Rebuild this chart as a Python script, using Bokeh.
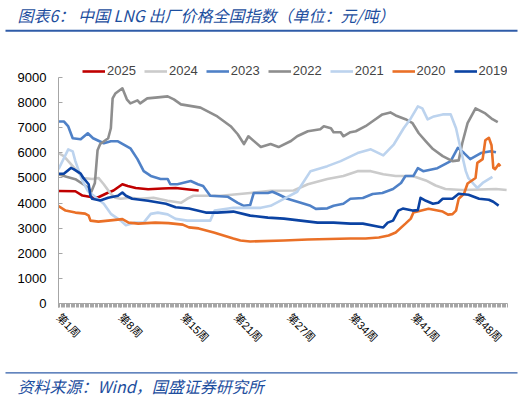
import numpy as np
from bokeh.plotting import figure
from bokeh.layouts import column
from bokeh.models import Range1d, FixedTicker, Legend, LegendItem
from bokeh.core.properties import value
from bokeh.embed import file_html
from bokeh.resources import INLINE

# ---------------- data (week of year, price yuan/ton) ----------------
week_ticks = [1, 8, 15, 21, 27, 34, 41, 48]
week_labels = ["第1周", "第8周", "第15周", "第21周", "第27周", "第34周", "第41周", "第48周"]
y_ticks = [0, 1000, 2000, 3000, 4000, 5000, 6000, 7000, 8000, 9000]

w2025 = [1.0, 2.9, 3.7, 4.8, 5.5, 6.5, 7.2, 8.2, 8.8, 9.7, 11.1, 12.7, 14.2, 15.7, 16.8]
v2025 = [4480, 4470, 4300, 4230, 4230, 4400, 4500, 4750, 4680, 4600, 4550, 4580, 4600, 4540, 4500]

w2024 = [1.0, 1.6, 2.4, 3.1, 3.8, 4.8, 5.5, 6.1, 6.9, 7.4, 8.0, 9.1, 10.2, 11.7, 13.3, 14.8,
         15.5, 16.2, 19.3, 22.6, 24.9, 27.5, 29.1, 31.3, 33.1, 34.7, 36.2, 37.6, 39.0, 40.9,
         42.4, 43.5, 44.6, 46.5, 48.6, 50.3, 51.5]
v2024 = [5990, 5870, 5550, 5270, 5000, 4960, 5000, 4750, 4360, 4210, 4170, 4210, 4170, 4210,
         4090, 4010, 4170, 4290, 4290, 4400, 4490, 4500, 4750, 4960, 5080, 5270, 5270, 5150,
         5080, 5080, 4900, 4700, 4560, 4520, 4540, 4560, 4520]

w2023 = [1.0, 1.6, 2.1, 2.6, 3.5, 4.3, 4.9, 6.1, 6.9, 7.7, 8.3, 9.1, 9.9, 10.6, 11.4, 12.5,
         13.3, 13.6, 14.4, 15.9, 16.7, 17.3, 18.1, 20.1, 21.2, 21.9, 22.6, 23.0, 24.6, 25.1,
         25.7, 26.8, 28.3, 29.4, 30.0, 31.3, 32.0, 33.1, 33.9, 35.3, 36.4, 37.5, 38.7, 39.6,
         40.1, 41.0, 41.5, 42.1, 43.7, 45.2, 46.0, 46.7, 47.4, 48.6, 49.7, 50.3]
v2023 = [7250, 7250, 7050, 6580, 6540, 6780, 6580, 6380, 6460, 6460, 6340, 6180, 5750, 5270,
         5080, 4960, 4960, 4750, 4750, 4880, 4750, 4680, 4290, 4250, 4010, 3890, 3920, 4400,
         4400, 4450, 4360, 4170, 4010, 3890, 3770, 3790, 3890, 3970, 4170, 4200, 4360, 4400,
         4560, 4800, 5080, 5080, 5390, 5270, 5390, 5670, 6200, 5990, 5750, 5990, 6060, 6020]

w2022 = [1.0, 1.9, 2.9, 4.0, 4.7, 5.1, 5.4, 5.7, 6.6, 6.9, 7.1, 7.4, 8.2, 8.7, 9.1, 9.9,
         10.2, 11.0, 12.2, 13.3, 14.0, 14.8, 17.0, 18.9, 20.4, 21.2, 21.9, 22.4, 23.8, 24.9,
         25.8, 27.2, 27.9, 29.1, 30.5, 30.9, 31.7, 32.0, 32.8, 33.1, 33.9, 34.5, 35.6, 36.4,
         37.5, 38.4, 39.0, 40.1, 40.9, 41.6, 42.4, 43.2, 44.3, 45.4, 46.1, 46.5, 47.1, 48.0,
         49.1, 49.9, 50.5]
v2022 = [5150, 5050, 4950, 4700, 4450, 4800, 6100, 6350, 6580, 6980, 8170, 8360, 8570, 8130,
         7970, 8090, 7970, 8170, 8210, 8250, 8130, 7930, 7800, 7450, 7060, 6740, 6350, 6660,
         6230, 6350, 6230, 6470, 6660, 6860, 6940, 7060, 6980, 6820, 6820, 6660, 6820, 6860,
         7060, 7260, 7530, 7610, 7490, 7340, 7180, 6780, 6460, 6150, 5870, 5670, 5700, 6380,
         7180, 7770, 7570, 7340, 7220]

w2021 = [1.0, 2.1, 2.6, 2.9, 3.3, 3.7, 4.3, 5.4, 6.1, 6.9, 8.0, 8.6, 9.5, 10.6, 11.4, 12.2,
         13.3, 14.2, 15.5, 18.1, 18.6, 20.7, 23.8, 24.9, 26.4, 27.9, 29.4, 31.3, 32.8, 34.7,
         36.2, 37.6, 38.8, 39.9, 40.7, 41.5, 42.0, 42.6, 43.3, 44.3, 45.2, 45.8, 46.3, 46.9,
         47.2, 47.8, 48.2, 48.8, 49.9]
v2021 = [5350, 6140, 6060, 5670, 5270, 4880, 4480, 4170, 3970, 3570, 3300, 3120, 3220, 3220,
         3570, 3620, 3550, 3370, 3300, 3300, 3700, 3810, 3810, 3890, 4170, 4450, 5270, 5470,
         5670, 5990, 6140, 5900, 6340, 6980, 7370, 7850, 7770, 7330, 7450, 7530, 7530, 6980,
         6180, 5270, 4990, 4750, 4600, 4800, 5040]

w2020 = [1.0, 1.8, 2.9, 4.0, 4.4, 4.6, 5.5, 6.6, 8.2, 8.9, 10.0, 11.9, 13.4, 15.0, 15.7,
         16.8, 18.5, 19.6, 20.7, 21.5, 22.6, 26.4, 29.1, 33.9, 35.6, 37.1, 38.2, 39.0, 40.1,
         40.7, 41.0, 42.7, 44.3, 44.9, 45.4, 45.8, 46.1, 46.7, 47.1, 48.0, 48.2, 48.8, 49.1,
         49.5, 49.8, 50.0, 50.2, 50.6, 50.8]
v2020 = [3880, 3700, 3620, 3580, 3500, 3300, 3260, 3300, 3360, 3220, 3180, 3220, 3200, 3140,
         3030, 2990, 2830, 2710, 2590, 2510, 2470, 2510, 2550, 2590, 2590, 2630, 2710, 2830,
         3180, 3380, 3620, 3770, 3660, 3540, 3560, 3700, 4170, 4370, 4780, 5000, 5600, 5750,
         6500, 6600, 6300, 5400, 5350, 5550, 5470]

w2019 = [1.0, 1.6, 2.4, 2.7, 3.5, 3.8, 4.4, 4.6, 4.8, 5.7, 6.6, 7.7, 8.2, 8.6, 9.3, 11.1,
         13.1, 14.2, 15.7, 17.6, 18.9, 20.7, 22.6, 24.6, 26.4, 28.3, 30.2, 32.0, 33.9, 35.3,
         37.1, 37.6, 38.1, 38.7, 39.3, 39.8, 40.9, 41.5, 41.8, 42.4, 43.2, 43.8, 44.3, 45.4,
         46.1, 47.2, 48.4, 49.5, 50.0, 50.6]
v2019 = [5170, 5170, 5400, 5350, 5170, 5000, 4750, 4290, 4170, 4100, 4210, 4290, 4420, 4290,
         4170, 4090, 3970, 3830, 3780, 3620, 3620, 3660, 3500, 3420, 3380, 3300, 3220, 3220,
         3180, 3180, 3060, 3030, 3220, 3300, 3700, 3780, 3700, 3720, 4210, 4090, 3970, 4010,
         4170, 4170, 4370, 4330, 4170, 4130, 4050, 3900]

series = [
    ("2025", w2025, v2025, "#C00000"),
    ("2024", w2024, v2024, "#CBCBCB"),
    ("2023", w2023, v2023, "#4F81C7"),
    ("2022", w2022, v2022, "#8E8E8E"),
    ("2021", w2021, v2021, "#BCD3EE"),
    ("2020", w2020, v2020, "#EA7027"),
    ("2019", w2019, v2019, "#0B43A3"),
]

title_text = "图表6： 中国 LNG 出厂价格全国指数（单位：元/吨）"
source_text = "资料来源：Wind，国盛证券研究所"

W = 525
TOP_H, MAIN_H, BOT_H = 34, 332, 31
BLUE_TXT = "#1D4E9E"
BLUE_RULE = "#2F5CA8"
label_font = "'Liberation Sans', 'Noto Sans CJK SC'"
cjk_font = "Noto Sans CJK SC"


def banner(height):
    f = figure(width=W, height=height, output_backend="svg", toolbar_location=None,
               x_range=Range1d(0, W), y_range=Range1d(height, 0),
               x_axis_location=None, y_axis_location=None,
               min_border=0, min_border_left=0, min_border_right=0,
               min_border_top=0, min_border_bottom=0)
    f.frame_align = False
    f.outline_line_color = None
    f.xgrid.visible = False
    f.ygrid.visible = False
    return f


# ---------------- title banner ----------------
top = banner(TOP_H)
top.text(x=[17], y=[14], text=[title_text], text_font=value(cjk_font),
         text_font_style="italic", text_font_size="16px", text_color=BLUE_TXT,
         text_baseline="middle", text_align="left")
top.segment(x0=[5], y0=[30.2], x1=[517], y1=[30.2], line_color=BLUE_RULE, line_width=2)

# ---------------- main chart ----------------
# frame: x 58..507, y 60..303 (9000 at y=77)
p = figure(width=W, height=MAIN_H, output_backend="svg", toolbar_location=None,
           x_range=Range1d(1, 51.6), y_range=Range1d(0, 9677),
           min_border_left=58, min_border_right=18, min_border_top=26,
           min_border_bottom=63)
p.frame_align = False
p.outline_line_color = None
p.xgrid.visible = False
p.ygrid.visible = False

ya = p.yaxis[0]
ya.ticker = FixedTicker(ticks=y_ticks, minor_ticks=[])
ya.bounds = (0, 9000)
ya.axis_line_color = "#A6A6A6"
ya.major_tick_line_color = "#A6A6A6"
ya.major_tick_in = 4
ya.major_tick_out = 0
ya.minor_tick_line_color = None
ya.major_label_standoff = 12
ya.major_label_text_font = label_font
ya.major_label_text_font_size = "13px"
ya.major_label_text_color = "#000000"

xa = p.xaxis[0]
xa.ticker = FixedTicker(ticks=week_ticks, minor_ticks=list(np.arange(1, 51.6, 1 / 7)))
xa.major_label_overrides = {t: s for t, s in zip(week_ticks, week_labels)}
xa.axis_line_color = "#A6A6A6"
xa.major_tick_line_color = "#A6A6A6"
xa.major_tick_in = 0
xa.major_tick_out = 4
xa.minor_tick_line_color = "#A6A6A6"
xa.minor_tick_in = 0
xa.minor_tick_out = 4
xa.major_label_orientation = -np.pi / 4
xa.major_label_standoff = 8
xa.major_label_text_font = label_font
xa.major_label_text_font_size = "11px"
xa.major_label_text_color = "#000000"

items = []
for name, w, v, c in series:
    r = p.line(w, v, line_color=c, line_width=2.6, line_join="round")
    items.append(LegendItem(label=name, renderers=[r]))

legend = Legend(items=items, orientation="horizontal", location=(24, 225),
                glyph_width=23, glyph_height=14, label_standoff=2, spacing=8,
                padding=0, margin=0, border_line_color=None,
                background_fill_alpha=0, label_text_font=label_font,
                label_text_font_size="13px", label_height=14)
p.add_layout(legend)

# ---------------- source banner ----------------
bot = banner(BOT_H)
bot.segment(x0=[5], y0=[6.3], x1=[517], y1=[6.3], line_color=BLUE_RULE, line_width=1.3)
bot.text(x=[17], y=[19], text=[source_text], text_font=value(cjk_font),
         text_font_style="italic", text_font_size="16px", text_color=BLUE_TXT,
         text_baseline="middle", text_align="left")

layout = column(top, p, bot, spacing=0)
open("out.html", "w").write(file_html(layout, INLINE))
